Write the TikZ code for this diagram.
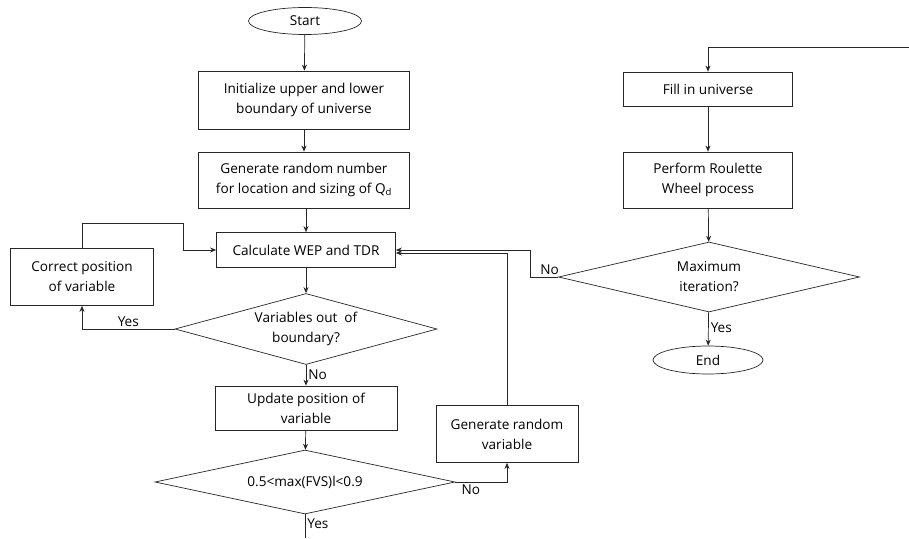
\documentclass[tikz,border=0pt]{standalone}
\usepackage{fontspec}
\setmainfont{Open Sans}
\usepackage{tikz}
\usetikzlibrary{shapes,arrows,arrows.meta}
\usetikzlibrary{shapes.geometric}
\usetikzlibrary{calc}

\begin{document}
\begin{tikzpicture}[x=1pt, y=-1pt, line width=0.7pt, draw=black!85,
    font=\fontsize{13.6}{20}\selectfont,
    >={Stealth[length=6pt, width=5pt]},
    box/.style={rectangle, draw, align=center, inner sep=0pt},
    term/.style={ellipse, draw, inner sep=0pt},
    decide/.style={diamond, draw, align=center, inner sep=0pt},
    lbl/.style={inner sep=2pt}]
  \useasboundingbox (0,0) rectangle (909,538);

  % Nodes
  \draw (305,21)  node(start)   [term, minimum width=113, minimum height=27] {Start};
  \draw (304,100) node(init)    [box, minimum width=211, minimum height=58] {Initialize upper and lower\\boundary of universe};
  \draw (304,180) node(gen)     [box, minimum width=211, minimum height=56] {Generate random number\\for location and sizing of Q\textsubscript{d}};
  \draw (306,250) node(calc)    [box, minimum width=179, minimum height=35] {Calculate WEP and TDR};
  \draw (82,277)  node(correct) [box, minimum width=143, minimum height=57] {Correct position\\of variable};
  \draw (306,329) node(outb)    [decide, aspect=3.69, minimum width=262, minimum height=71] {Variables out\ \ of\\boundary?};
  \draw (306,408) node(update)  [box, minimum width=182, minimum height=44] {Update position of\\variable};
  \draw (305,482) node(range)   [decide, aspect=4.69, minimum width=300, minimum height=64] {0.5<max(FVS)l<0.9};
  \draw (507,434) node(randvar) [box, minimum width=142, minimum height=57] {Generate random\\variable};

  \draw (708,89)  node(fill)    [box, minimum width=169, minimum height=34] {Fill in universe};
  \draw (708,180) node(wheel)   [box, minimum width=169, minimum height=56] {Perform Roulette\\Wheel process};
  \draw (709,277) node(maxit)   [decide, aspect=4.3, minimum width=301, minimum height=70] {Maximum\\iteration?};
  \draw (708,360) node(stop)    [term, minimum width=110, minimum height=28] {End};

  \coordinate (loopA) at (183,223);
  \coordinate (noA)   at (530,277);
  \coordinate (down)  at (305,538);
  \coordinate (back)  at (909,47);

  % Edges
  \path[->] (start) edge (init);
  \path[->] (init)  edge (gen);
  \path[->] (gen.south -| calc.north) edge (calc);
  \path[->] (calc)  edge (outb);
  \draw[->] (outb.west) -| node[lbl, pos=0.25, above] {Yes} (correct.south);
  \draw[->] (correct.north) |- (loopA) |- (calc.west);
  \path[->] (outb)  edge node[lbl, right, pos=0.45] {No} (update);
  \path[->] (update) edge (range);
  \draw[->] (range.east) -| node[lbl, pos=0.15, below] {No} (randvar.south);
  \draw (range.south) -- node[lbl, right, pos=0.4] {Yes} (down);
  \draw[->] (randvar.north) |- ([yshift=-3pt]calc.east);
  \draw[->] (maxit.west) -- node[lbl, pos=0.3, above] {No} (noA) |- (calc.east);

  \draw[->] (back) -| (fill.north);
  \path[->] (fill)  edge (wheel);
  \path[->] (wheel) edge (maxit);
  \path[->] (maxit) edge node[lbl, right, pos=0.45] {Yes} (stop);

\end{tikzpicture}
\end{document}
